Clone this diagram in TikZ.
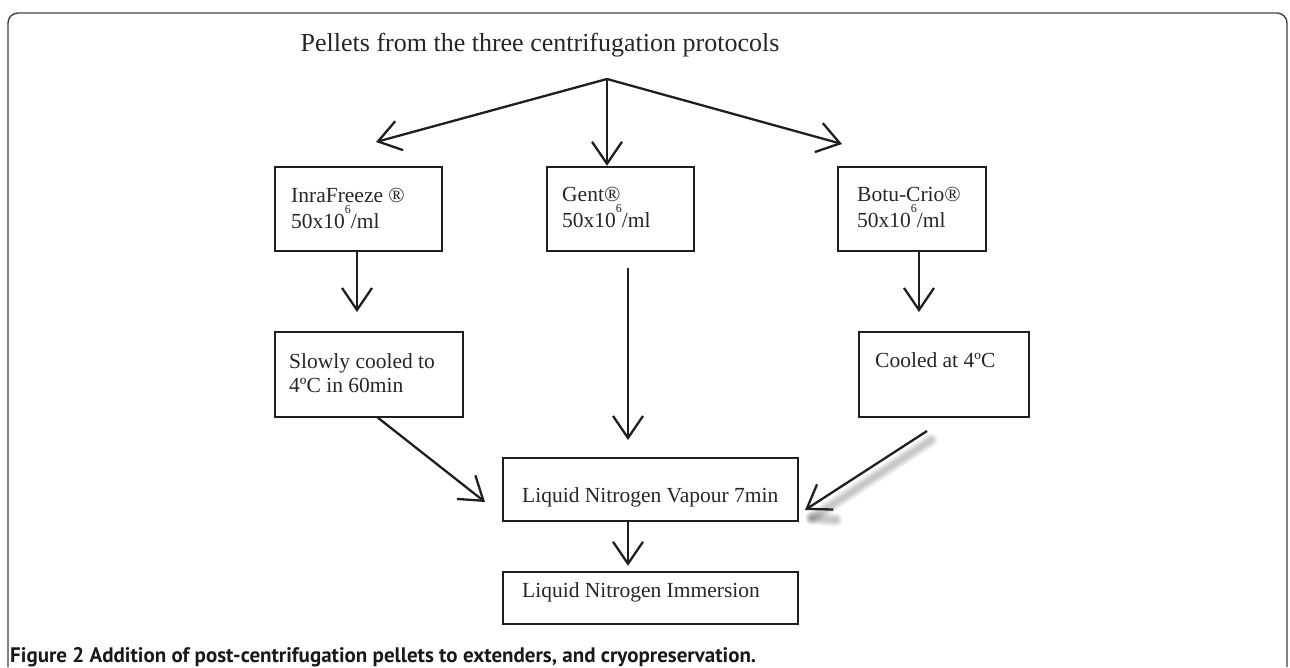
\documentclass[tikz,border=0pt]{standalone}
\usepackage{fontspec}
\setmainfont{Liberation Serif}
\newfontfamily\capfont{PT Sans}
\usetikzlibrary{arrows.meta}
\newcommand{\sixsup}{\raisebox{15pt}{\fontsize{12}{12}\selectfont 6}}
\begin{document}
\begin{tikzpicture}[x=1pt,y=-1pt,
  box/.style={draw=black!88, line width=2.4pt, inner sep=0pt},
  txt/.style={anchor=base west, inner sep=0pt, font=\fontsize{21.5}{26}\selectfont, text=black!85},
  arr/.style={draw=black!88, line width=2.3pt, -{Straight Barb[length=22pt,width=30pt]}},
  frm/.style={draw=black!75, line width=1.4pt, rounded corners=10pt},
  shd/.style={draw=black, line cap=round}
]
\useasboundingbox (0,0) rectangle (1290,667);
% frame
\draw[frm] (8,667) -- (8,13) -- (1287,13) -- (1287,667);

% title
\node[anchor=base, inner sep=0pt, font=\fontsize{26}{30}\selectfont, text=black!85] (title) at (540,51) {Pellets from the three centrifugation protocols};

% boxes
\node[box, minimum width=167pt, minimum height=84pt] (b1) at (358.5,209) {};
\node[box, minimum width=147pt, minimum height=84pt] (b2) at (620.5,209) {};
\node[box, minimum width=148pt, minimum height=84pt] (b3) at (912,209) {};
\node[box, minimum width=188pt, minimum height=85pt] (b4) at (369,374.5) {};
\node[box, minimum width=170pt, minimum height=85pt] (b5) at (944,374.5) {};
\node[box, minimum width=295pt, minimum height=63pt] (b6) at (650.5,489.5) {};
\node[box, minimum width=295pt, minimum height=52pt] (b7) at (650.5,598) {};

% texts
\node[txt] (t1a) at (291,202) {InraFreeze ®};
\node[txt] (t1b) at (291,228) {50x10\sixsup/ml};
\node[txt] (t2a) at (562,201) {Gent®};
\node[txt] (t2b) at (562,227) {50x10\sixsup/ml};
\node[txt] (t3a) at (857,201) {Botu-Crio®};
\node[txt] (t3b) at (857,227) {50x10\sixsup/ml};
\node[txt] (t4a) at (289,368) {Slowly cooled to};
\node[txt] (t4b) at (289,392) {4ºC in 60min};
\node[txt] (t5) at (875,367) {Cooled at 4ºC};
\node[txt] (t6) at (522,502) {Liquid Nitrogen Vapour 7min};
\node[txt] (t7) at (522,597) {Liquid Nitrogen Immersion};

% coordinates
\coordinate (apex) at (607,79);
\coordinate (tl) at (376,142);
\coordinate (tr) at (842,144);
\coordinate (a1e) at (357,312);
\coordinate (a3e) at (919,312);
\coordinate (c1) at (628,268);
\coordinate (c2) at (628,440);
\coordinate (a4s) at (377,417);
\coordinate (a4e) at (485,502);
\coordinate (a5s) at (927,431);
\coordinate (a5e) at (805,510);

% shadow of right arrow
\begin{scope}[opacity=0.06]
\foreach \w in {4,7,10,13} {
  \draw[shd, line width=\w pt] (931,440) -- (812,518);
  \draw[shd, line width=\w pt] (812,518) -- (836,520);
}
\end{scope}

% connectors
\draw[arr] (apex) -- (tl);
\draw[arr] (apex) -- (b2.north -| apex);
\draw[arr] (apex) -- (tr);
\draw[arr] (b1.south -| a1e) -- (a1e);
\draw[arr] (b3.south -| a3e) -- (a3e);
\draw[arr] (c1) -- (c2);
\draw[arr] (a4s) -- (a4e);
\draw[arr] (a5s) -- (a5e);
\draw[arr] (b6.south -| c1) -- ([yshift=5pt]b7.north -| c1);

% caption
\node[anchor=base west, inner sep=0pt, font=\capfont\bfseries\fontsize{21}{25}\selectfont, text=black!90] (cap) at (10,662) {Figure 2 Addition of post-centrifugation pellets to extenders, and cryopreservation.};
\end{tikzpicture}
\end{document}
